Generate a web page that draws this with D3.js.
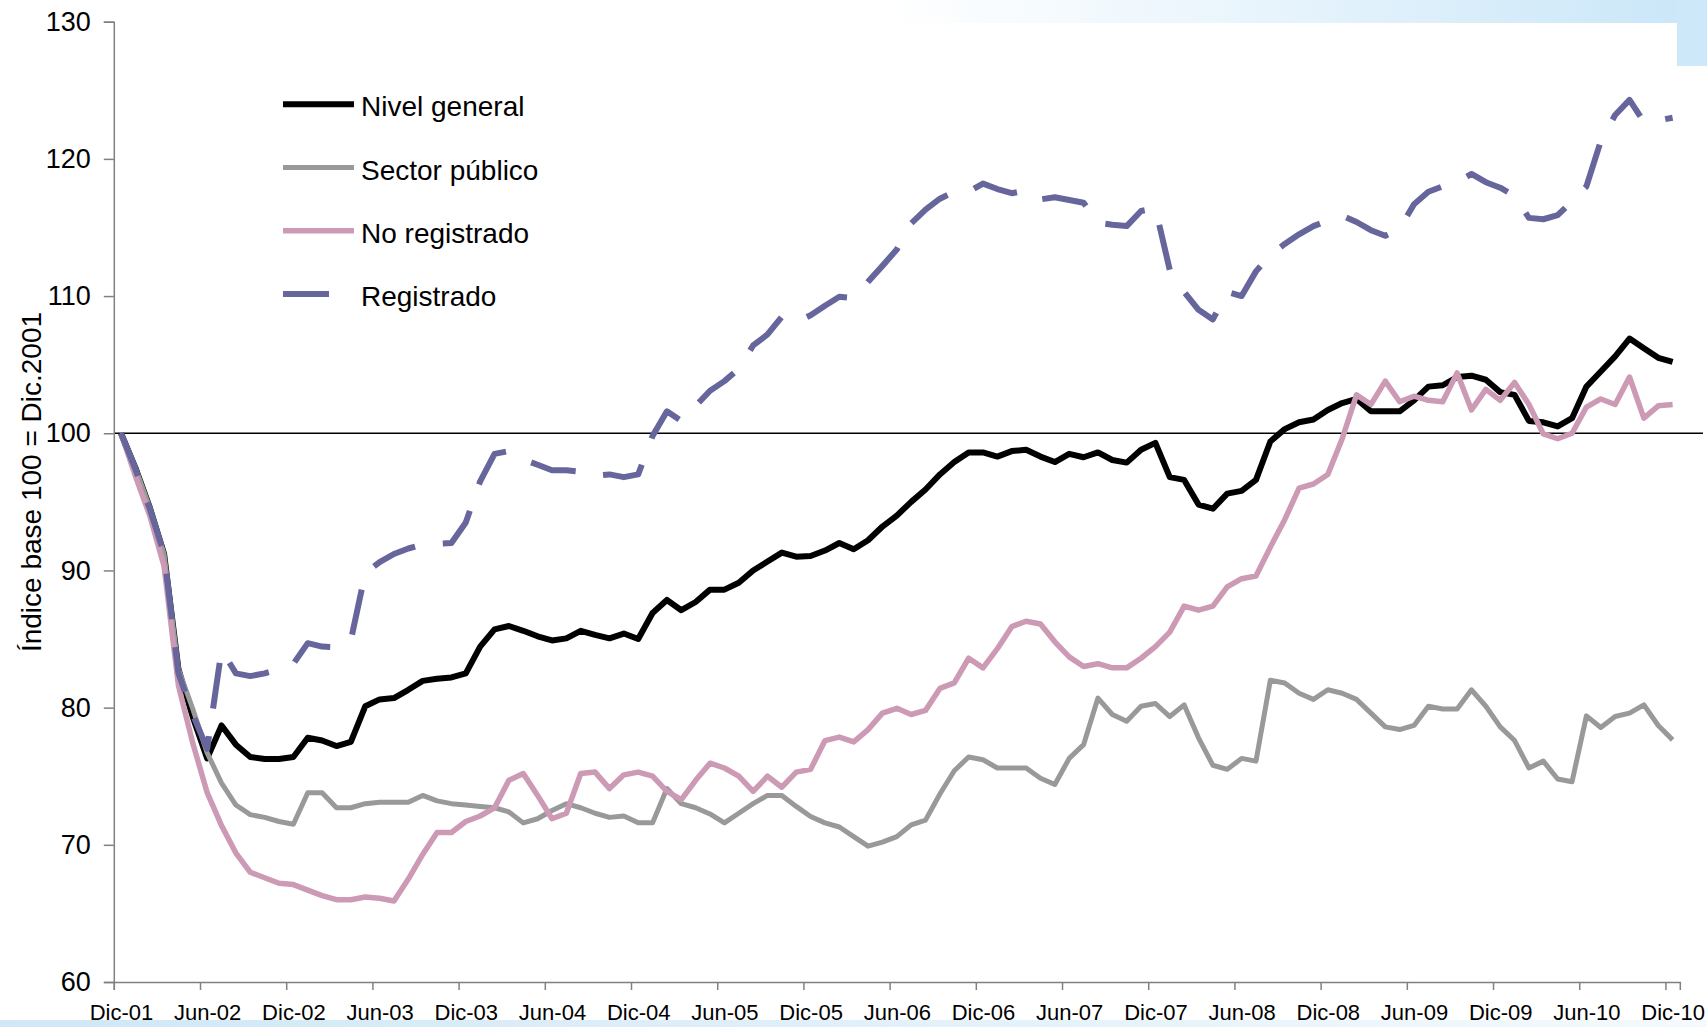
<!DOCTYPE html>
<html>
<head>
<meta charset="utf-8">
<script src="https://cdn.jsdelivr.net/npm/d3@7"></script>
<style>
  body { margin: 0; background: #fff; }
  svg { display: block; font-family: "Liberation Sans", Arial, sans-serif; }
</style>
</head>
<body>
<script>
// monthly index, Dic-01 = 100 (Dic-01 ... Dic-10, 109 months)
const tickLabels = ["Dic-01", "Jun-02", "Dic-02", "Jun-03", "Dic-03", "Jun-04", "Dic-04",
  "Jun-05", "Dic-05", "Jun-06", "Dic-06", "Jun-07", "Dic-07", "Jun-08", "Dic-08",
  "Jun-09", "Dic-09", "Jun-10", "Dic-10"];

const yTicks = [60, 70, 80, 90, 100, 110, 120, 130];

const nivelGeneral = [
  100, 97.5, 94.6, 91.2, 82.8, 79.3, 76.3, 78.7, 77.3, 76.4, 76.25, 76.25, 76.4,
  77.8, 77.6, 77.2, 77.5, 80.1, 80.6, 80.7, 81.3, 81.95, 82.1, 82.2, 82.5,
  84.45, 85.7, 85.95, 85.6, 85.2, 84.9, 85.05, 85.6, 85.3, 85.05, 85.4, 85.0,
  86.9, 87.85, 87.1, 87.7, 88.6, 88.6, 89.1, 90.0, 90.65, 91.3, 91.0, 91.05,
  91.45, 92.0, 91.55, 92.2, 93.2, 94.0, 95.0, 95.9, 97.0, 97.9, 98.6, 98.6,
  98.3, 98.7, 98.8, 98.3, 97.9, 98.5, 98.25, 98.6, 98.05, 97.86, 98.8, 99.3,
  96.8, 96.6, 94.8, 94.5, 95.6, 95.8, 96.6, 99.4, 100.3, 100.8, 101.0, 101.7,
  102.2, 102.5, 101.6, 101.6, 101.6, 102.4, 103.4, 103.5, 104.1, 104.2, 103.9, 103.0,
  102.8, 100.9, 100.8, 100.5, 101.1, 103.4, 104.5, 105.6, 106.9, 106.2, 105.5, 105.2
];

const sectorPublico = [
  100, 97.5, 94.6, 91.2, 82.8, 79.9, 76.7, 74.5, 72.9, 72.2, 72.0, 71.7, 71.5,
  73.8, 73.8, 72.7, 72.7, 73.0, 73.1, 73.1, 73.1, 73.6, 73.2, 73.0, 72.9,
  72.8, 72.7, 72.4, 71.6, 71.9, 72.5, 73.0, 72.7, 72.3, 72.0, 72.1, 71.6,
  71.6, 74.1, 73.0, 72.7, 72.25, 71.6, 72.3, 73.0, 73.6, 73.6, 72.8, 72.06,
  71.6, 71.3, 70.6, 69.9, 70.2, 70.6, 71.45, 71.8, 73.7, 75.4, 76.4, 76.2,
  75.6, 75.6, 75.6, 74.85, 74.4, 76.3, 77.3, 80.7, 79.5, 79.0, 80.1, 80.3,
  79.35, 80.2, 77.8, 75.8, 75.5, 76.3, 76.1, 82.0, 81.8, 81.05, 80.6, 81.3,
  81.05, 80.6, 79.6, 78.6, 78.4, 78.7, 80.1, 79.9, 79.9, 81.3, 80.1, 78.6,
  77.6, 75.6, 76.1, 74.8, 74.6, 79.4, 78.55, 79.35, 79.6, 80.2, 78.7, 77.65
];

const noRegistrado = [
  100, 96.9, 94.0, 90.3, 81.6, 77.4, 73.8, 71.4, 69.4, 68.0, 67.6, 67.2, 67.1,
  66.7, 66.3, 66.0, 66.0, 66.2, 66.1, 65.9, 67.5, 69.3, 70.9, 70.9, 71.7,
  72.1, 72.7, 74.7, 75.2, 73.6, 71.9, 72.3, 75.2, 75.3, 74.1, 75.1, 75.3,
  75.0, 73.9, 73.3, 74.7, 75.95, 75.6, 75.0, 73.9, 75.0, 74.2, 75.3, 75.5,
  77.6, 77.85, 77.5, 78.4, 79.6, 79.95, 79.5, 79.8, 81.4, 81.8, 83.6, 82.9,
  84.3, 85.9, 86.3, 86.1, 84.8, 83.7, 83.0, 83.2, 82.9, 82.9, 83.6, 84.45,
  85.5, 87.4, 87.1, 87.4, 88.8, 89.4, 89.6, 91.7, 93.7, 96.0, 96.3, 97.0,
  99.6, 102.8, 102.1, 103.8, 102.3, 102.7, 102.4, 102.3, 104.4, 101.7, 103.2, 102.4,
  103.7, 102.1, 99.95, 99.6, 100.0, 101.9, 102.5, 102.1, 104.1, 101.1, 102.0, 102.1
];

const registrado = [
  100, 97.4, 94.5, 91.2, 82.5, 79.5, 77.0, 84.2, 82.5, 82.3, 82.5, 82.8, 83.2,
  84.7, 84.45, 84.4, 84.9, 89.8, 90.6, 91.2, 91.6, 91.9, 91.95, 92.0, 93.5,
  96.5, 98.5, 98.7, 98.1, 97.7, 97.3, 97.3, 97.2, 96.9, 97.0, 96.8, 97.0,
  99.8, 101.6, 100.9, 102.0, 103.1, 103.8, 104.7, 106.4, 107.2, 108.5, 108.1, 108.6,
  109.3, 109.95, 109.85, 111.05, 112.2, 113.4, 115.3, 116.3, 117.1, 117.6, 117.6, 118.2,
  117.8, 117.5, 117.7, 117.05, 117.2, 117.0, 116.8, 115.35, 115.2, 115.1, 116.2, 116.4,
  111.9, 110.3, 109.0, 108.3, 110.3, 110.0, 111.8, 113.0, 113.8, 114.5, 115.1, 115.5,
  115.85, 115.4, 114.8, 114.4, 114.9, 116.7, 117.6, 118.0, 118.3, 118.9, 118.3, 117.9,
  117.3, 115.7, 115.6, 115.9, 116.9, 118.0, 121.3, 123.2, 124.3, 122.7, 122.8, 123.0
];

const seriesNames = ["Nivel general", "Sector público", "No registrado", "Registrado"];
const seriesValues = [nivelGeneral, sectorPublico, noRegistrado, registrado];
const seriesColors = ["#000000", "#999999", "#cc9ab4", "#66669c"];
const seriesWidths = [6, 5, 5.5, 6];

const w = 1707;
const h = 1027;

// plot area
const plotLeft = 113.8;
const plotRight = 1679.8;
const plotTop = 21.7;
const plotBottom = 982;

const svg = d3.select("body").append("svg").attr("width", w).attr("height", h);

// slide decoration (light blue bands)
const defs = svg.append("defs");
const topGrad = defs.append("linearGradient").attr("id", "topband");
topGrad.append("stop").attr("offset", "0%").attr("stop-color", "#ffffff");
topGrad.append("stop").attr("offset", "35%").attr("stop-color", "#eef7fd");
topGrad.append("stop").attr("offset", "100%").attr("stop-color", "#c9e6f8");
const botGrad = defs.append("linearGradient").attr("id", "botband");
botGrad.append("stop").attr("offset", "0%").attr("stop-color", "#cfe7f6");
botGrad.append("stop").attr("offset", "60%").attr("stop-color", "#e4f2fb");
botGrad.append("stop").attr("offset", "100%").attr("stop-color", "#f4fafd");

svg.append("rect").attr("x", 880).attr("y", 0).attr("width", w - 880).attr("height", 23)
  .attr("fill", "url(#topband)");
svg.append("rect").attr("x", 1677).attr("y", 0).attr("width", w - 1677).attr("height", 66)
  .attr("fill", "#cde8f8");
svg.append("rect").attr("x", 0).attr("y", 1020).attr("width", w).attr("height", 7)
  .attr("fill", "url(#botband)");

// scales: one slot per month, points in the middle of the slot
const xScale = d3.scaleLinear().domain([0, 109]).range([plotLeft, plotRight]);
const yScale = d3.scaleLinear().domain([60, 130]).range([plotBottom, plotTop]);
const half = xScale(0.5) - xScale(0);

// reference line at 100
svg.append("line")
  .attr("x1", plotLeft).attr("x2", 1703)
  .attr("y1", yScale(100)).attr("y2", yScale(100))
  .attr("stroke", "#000").attr("stroke-width", 1.6);

// Y axis
const yAxis = d3.axisLeft(yScale).tickValues(yTicks).tickSize(10).tickPadding(13);
const gy = svg.append("g")
  .attr("transform", `translate(${plotLeft},0)`)
  .call(yAxis);
gy.select(".domain").attr("stroke", "#808080").attr("stroke-width", 1.5);
gy.selectAll(".tick line").attr("stroke", "#808080").attr("stroke-width", 1.5);
gy.selectAll("text").attr("font-size", 27).attr("fill", "#000")
  .attr("font-family", "Liberation Sans, Arial, sans-serif");

// X axis: ticks on slot boundaries every 6 months, labels centered on the slot
const xAxis = d3.axisBottom(xScale)
  .tickValues(d3.range(0, 109, 6))
  .tickSize(8)
  .tickPadding(14)
  .tickFormat((d, i) => tickLabels[i]);
const gx = svg.append("g")
  .attr("transform", `translate(0,${plotBottom})`)
  .call(xAxis);
gx.select(".domain").attr("stroke", "#808080").attr("stroke-width", 1.5);
gx.selectAll(".tick line").attr("stroke", "#808080").attr("stroke-width", 1.5);
gx.selectAll("text").attr("font-size", 22).attr("fill", "#000")
  .attr("font-family", "Liberation Sans, Arial, sans-serif")
  .attr("x", half);

// Y axis title
svg.append("text")
  .attr("transform", "rotate(-90)")
  .attr("x", -482)
  .attr("y", 41)
  .attr("text-anchor", "middle")
  .attr("font-size", 28)
  .text("Índice base 100 = Dic.2001");

// lines
const line = d3.line()
  .x((d, i) => xScale(i + 0.5))
  .y((d) => yScale(d));

seriesValues.forEach((vals, k) => {
  svg.append("path")
    .datum(vals)
    .attr("fill", "none")
    .attr("stroke", seriesColors[k])
    .attr("stroke-width", seriesWidths[k])
    .attr("stroke-linejoin", "round")
    .attr("stroke-dasharray", k === 3 ? "46,28" : null)
    .attr("d", line);
});

// legend
const legend = svg.append("g").attr("id", "legend");
seriesNames.forEach((name, k) => {
  const ly = 104.3 + k * 63.2;
  legend.append("line")
    .attr("x1", 283).attr("x2", 354)
    .attr("y1", ly).attr("y2", ly)
    .attr("stroke", seriesColors[k])
    .attr("stroke-width", seriesWidths[k])
    .attr("stroke-dasharray", k === 3 ? "46,28" : null);
  legend.append("text")
    .attr("x", 361)
    .attr("y", ly + 12)
    .attr("font-size", 28)
    .text(name);
});
</script>
</body>
</html>
